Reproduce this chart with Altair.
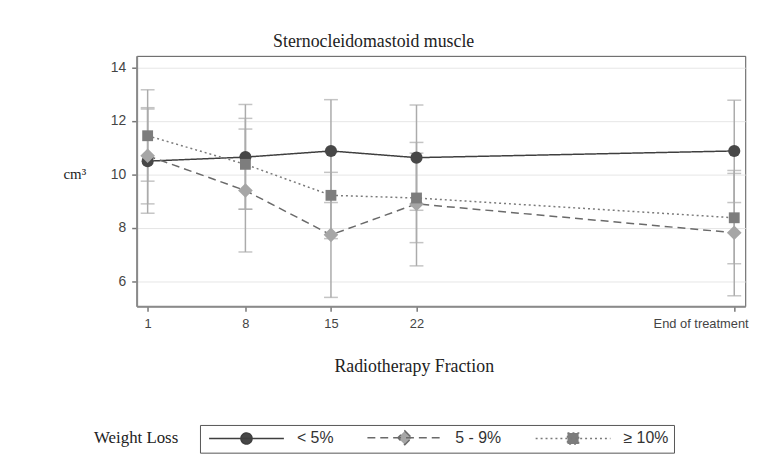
import altair as alt
import pandas as pd

# ---- data ----
groups = ["< 5%", "5 - 9%", "≥ 10%"]
fraction_pos = [0, 8, 15, 22, 48]
fraction_labels = ["1", "8", "15", "22", "End of treatment"]

mean_lt5 = [10.50, 10.65, 10.88, 10.63, 10.88]
lo_lt5 = [8.55, 8.70, 8.95, 8.66, 8.95]
hi_lt5 = [12.45, 12.62, 12.80, 12.60, 12.78]

mean_5_9 = [10.70, 9.40, 7.74, 8.90, 7.82]
lo_5_9 = [8.90, 7.10, 5.40, 6.58, 5.46]
hi_5_9 = [12.50, 11.70, 10.08, 11.20, 10.15]

mean_ge10 = [11.45, 10.38, 9.22, 9.12, 8.38]
lo_ge10 = [9.75, 8.70, 7.60, 7.45, 6.66]
hi_ge10 = [13.17, 12.10, 10.85, 10.80, 10.04]

title_text = "Sternocleidomastoid muscle"
x_title = "Radiotherapy Fraction"
y_title = "cm³"
legend_title = ["Weight Loss"]

# ---- long table ----
rows = []
for g, ms, los, his in zip(groups,
                           [mean_lt5, mean_5_9, mean_ge10],
                           [lo_lt5, lo_5_9, lo_ge10],
                           [hi_lt5, hi_5_9, hi_ge10]):
    for p, m, lo, hi in zip(fraction_pos, ms, los, his):
        rows.append({"group": g, "pos": p, "mean": m, "lo": lo, "hi": hi})
df = pd.DataFrame(rows)

line_colors = ["#3f3f3f", "#6a6a6a", "#7a7a7a"]
point_colors = ["#474747", "#a6a6a6", "#7d7d7d"]
dashes = [[1, 0], [8, 5], [2, 3]]
shapes = ["circle", "diamond", "square"]
point_sizes = [150, 220, 120]
legend_paths = [
    "M-5.4,0H5.4M-0.8,0A0.8,0.8 0 1,0 0.8,0A0.8,0.8 0 1,0 -0.8,0Z",
    "M-5.4,0H5.4M0,-1L1,0L0,1L-1,0Z",
    "M-5.4,0H5.4M-0.8,-0.8H0.8V0.8H-0.8Z",
]

label_expr = ""
for p, lab in zip(fraction_pos, fraction_labels):
    label_expr += f"datum.value == {p} ? '{lab}' : "
label_expr += "''"
last_pos = fraction_pos[-1]

SERIF = "Liberation Serif"
SANS = "Liberation Sans"

x_enc = alt.X(
    "pos:Q",
    scale=alt.Scale(domain=[-0.9, 48.9], nice=False, zero=False),
    axis=alt.Axis(
        values=fraction_pos, labelExpr=label_expr, title=x_title, grid=False,
        domainColor="#8a8a8a", domainWidth=2, tickColor="#777", tickSize=5,
        tickWidth=1.5, labelFont=SANS, labelFontSize=13, labelColor="#444",
        labelPadding=7, labelFlush=False, labelOverlap=False,
        labelAlign=alt.condition(f"datum.value == {last_pos}", alt.value("left"), alt.value("center")),
        labelOffset=alt.condition(f"datum.value == {last_pos}", alt.value(-82), alt.value(0)),
        titleFont=SERIF, titleFontSize=18,
        titleFontWeight="normal", titleColor="#222",
        titleX=280, titleY=61, titleBaseline="middle", titleAnchor="start",
        titleAlign="center",
    ),
)
y_scale = alt.Scale(domain=[5.07, 14.44], nice=False, zero=False)
y_axis = alt.Axis(
    values=[6, 8, 10, 12, 14], format="d", title=y_title, grid=True,
    gridColor="#e6e6e6", gridWidth=1, domainColor="#8a8a8a", domainWidth=2,
    tickColor="#777", tickSize=5, tickWidth=1.5, labelFont=SANS,
    labelFontSize=14, labelColor="#444", labelPadding=6,
    titleFont=SERIF, titleFontSize=15, titleFontWeight="normal",
    titleColor="#222", titleAngle=0, titleX=-63, titleY=119,
    titleAlign="center", titleBaseline="middle",
)

base = alt.Chart(df)

err = base.mark_rule(color="#ababab", strokeWidth=1.5).encode(
    x=x_enc, y=alt.Y("lo:Q", scale=y_scale, axis=y_axis), y2="hi:Q"
)
caps = base.transform_fold(["lo", "hi"], as_=["end", "val"]).mark_tick(
    orient="horizontal", size=14, thickness=1.5, color="#ababab"
).encode(x=x_enc, y=alt.Y("val:Q", scale=y_scale, axis=y_axis))

lines = base.mark_line(strokeWidth=1.5).encode(
    x=x_enc,
    y=alt.Y("mean:Q", scale=y_scale, axis=y_axis),
    color=alt.Color("group:N", scale=alt.Scale(domain=groups, range=line_colors), legend=None),
    strokeDash=alt.StrokeDash("group:N", scale=alt.Scale(domain=groups, range=dashes), legend=None),
)
points = base.mark_point(filled=True, opacity=1).encode(
    x=x_enc,
    y=alt.Y("mean:Q", scale=y_scale, axis=y_axis),
    fill=alt.Fill("group:N", scale=alt.Scale(domain=groups, range=point_colors), legend=None),
    shape=alt.Shape("group:N", scale=alt.Scale(domain=groups, range=shapes), legend=None),
    size=alt.Size("group:N", scale=alt.Scale(type="ordinal", domain=groups, range=point_sizes), legend=None),
)

wl_text = alt.Chart(pd.DataFrame({"t": legend_title})).mark_text(
    align="right", baseline="middle", font=SERIF, fontSize=17, color="#222"
).encode(text="t:N", x=alt.value(42), y=alt.value(386))

main = alt.layer(err, caps, lines, points, wl_text)

leg = alt.Legend(
    title=None, orient="none", legendX=64, legendY=373, direction="horizontal",
    strokeColor="#555", fillColor="white", padding=5, symbolSize=196,
    symbolStrokeWidth=1.5, symbolOffset=34, labelFont=SANS, labelFontSize=16,
    labelColor="#333", columnPadding=30, labelOffset=43,
)
legend_layer = alt.Chart(df).transform_filter("false").mark_point(
    filled=True, opacity=1, strokeWidth=1.5
).encode(
    shape=alt.Shape("group:N", scale=alt.Scale(domain=groups, range=legend_paths), legend=leg),
    fill=alt.Fill("group:N", scale=alt.Scale(domain=groups, range=point_colors), legend=leg),
    stroke=alt.Stroke("group:N", scale=alt.Scale(domain=groups, range=line_colors), legend=leg),
    strokeDash=alt.StrokeDash("group:N", scale=alt.Scale(domain=groups, range=dashes), legend=leg),
)

chart = alt.layer(main, legend_layer).resolve_scale(
    fill="independent", shape="independent", strokeDash="independent",
    stroke="independent", color="independent", size="independent",
).properties(
    width=615, height=253, autosize="none",
    padding={"left": 130, "top": 46, "right": 23, "bottom": 148},
    background="white",
    title=alt.TitleParams(
        title_text, anchor="middle", dx=-68, offset=5, font=SERIF,
        fontSize=18, fontWeight="normal", color="#222",
    ),
).configure_view(stroke="#555", strokeWidth=1)

chart.save("out.html", embed_options={"renderer": "svg", "actions": False})
